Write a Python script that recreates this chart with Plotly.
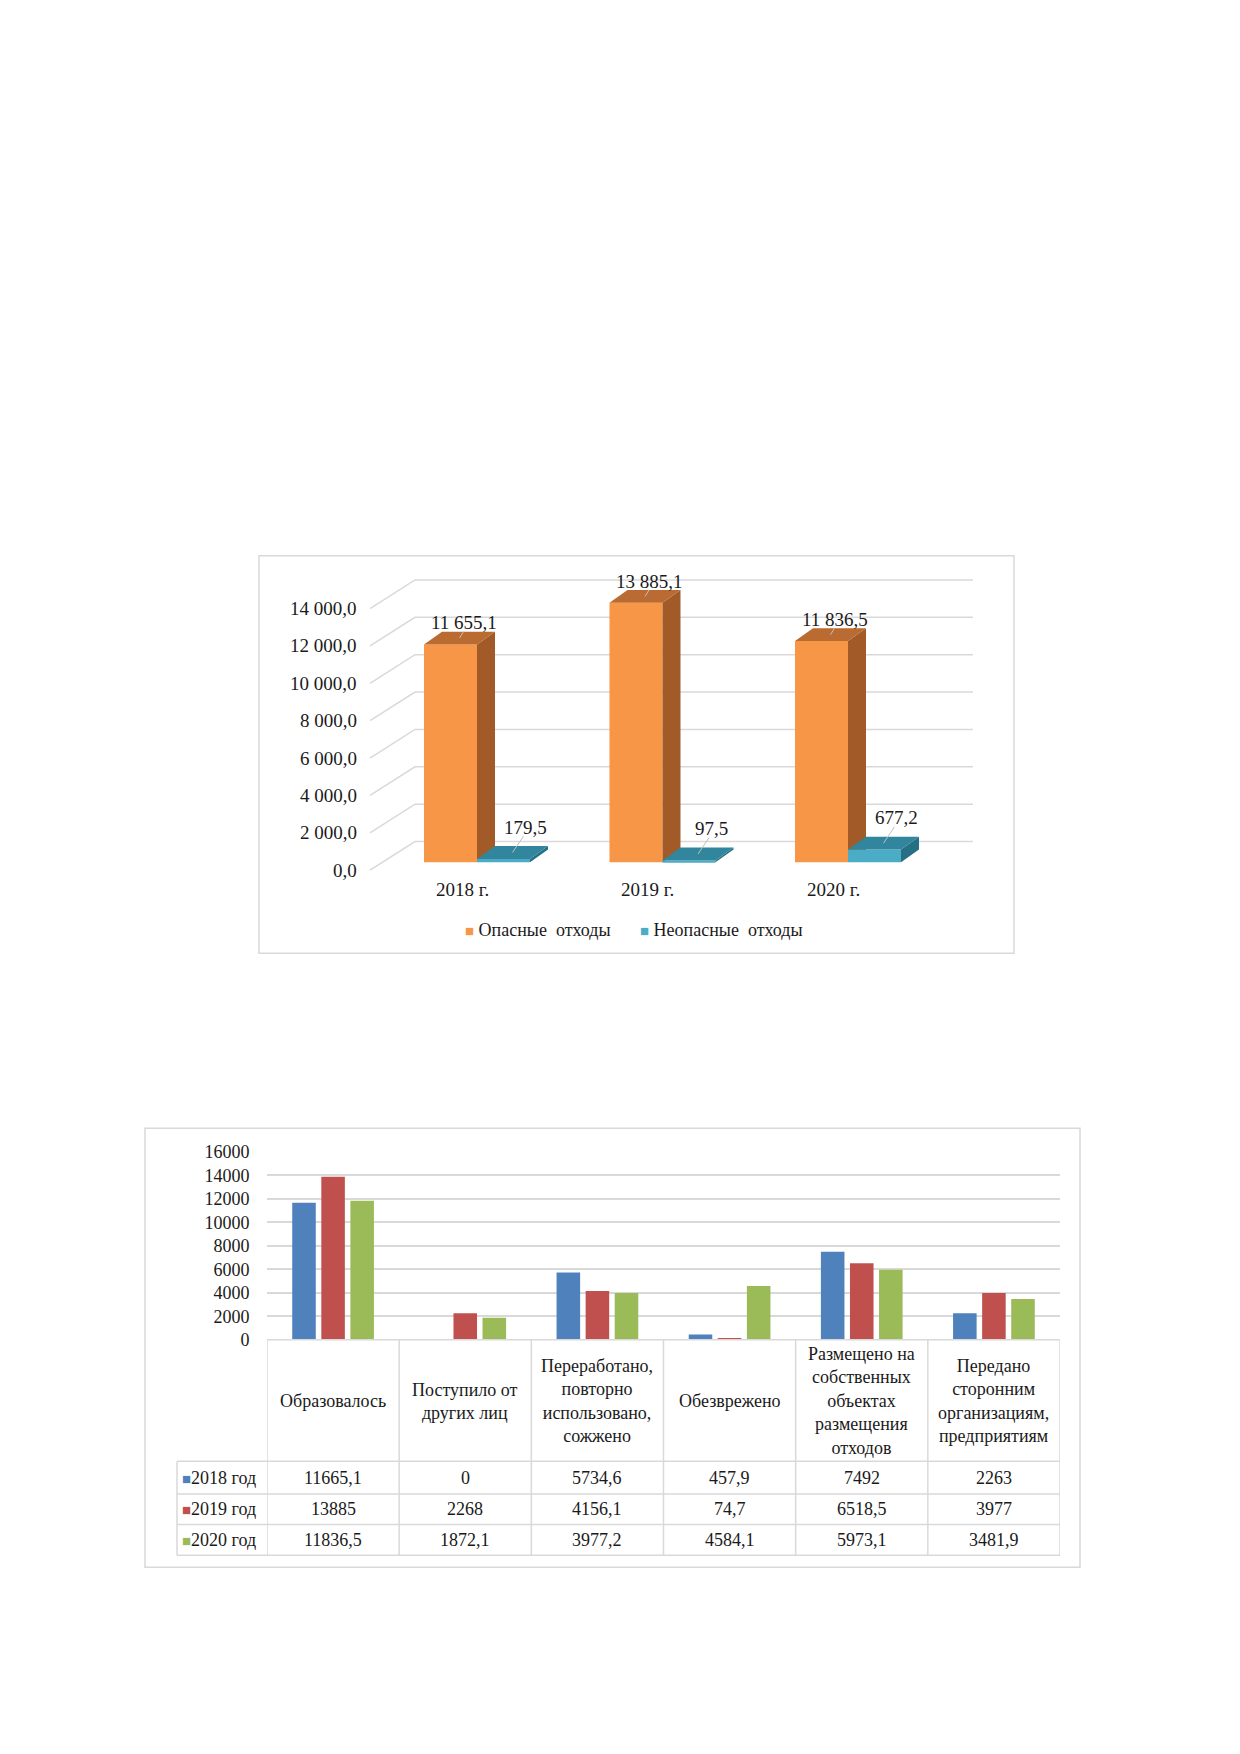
import plotly.graph_objects as go

# top chart: hazardous / non-hazardous waste, thousand t
top_years = ["2018 г.", "2019 г.", "2020 г."]
hazardous = [11655.1, 13885.1, 11836.5]
non_hazardous = [179.5, 97.5, 677.2]
top_ticks = [0, 2000, 4000, 6000, 8000, 10000, 12000, 14000]
top_series = ["Опасные\u00a0 отходы", "Неопасные\u00a0 отходы"]

# bottom chart: waste flows by year
waste_ops = [
    "Образовалось",
    "Поступило от<br>других лиц",
    "Переработано,<br>повторно<br>использовано,<br>сожжено",
    "Обезврежено",
    "Размещено на<br>собственных<br>объектах<br>размещения<br>отходов",
    "Передано<br>сторонним<br>организациям,<br>предприятиям",
]
years = ["2018 год", "2019 год", "2020 год"]
y2018 = [11665.1, 0, 5734.6, 457.9, 7492, 2263]
y2019 = [13885, 2268, 4156.1, 74.7, 6518.5, 3977]
y2020 = [11836.5, 1872.1, 3977.2, 4584.1, 5973.1, 3481.9]
bottom_ticks = [0, 2000, 4000, 6000, 8000, 10000, 12000, 14000, 16000]

W, H = 1240, 1754
FONT = "Liberation Serif"
TXT = "#1a1a1a"
GRID = "#D9D9D9"
TOP_FS = 19
BOT_FS = 18


def px(x):
    return x / W


def py(y):
    return 1 - y / H


def fmt_top(v):
    return f"{v:,.1f}".replace(",", " ").replace(".", ",")


def fmt_cell(v):
    return f"{v:g}".replace(".", ",")


# geometry of the pseudo 3-D chart (pixels of the front plane)
X0, XS = 469, 185.5      # px of category 0, px per category
Y0, YS = 854, 0.0189     # px of value 0, px per value unit
BW = 53 / XS             # bar width in x units


def tx(p):
    return (p - X0) / XS


def ty(dp):
    return dp / YS


BDX, BDY = 18 / XS, ty(13)   # bar depth

top_front = ["#F79646", "#4BACC6"]
top_side = ["#A15A28", "#276F84"]
top_cap = ["#BA6B31", "#31869E"]


def faces(lefts, vals):
    sx, sy, cx, cy = [], [], [], []
    for x0, v in zip(lefts, vals):
        x1 = x0 + BW
        sx += [x1, x1 + BDX, x1 + BDX, x1, None]
        sy += [0, BDY, v + BDY, v, None]
        cx += [x0, x0 + BDX, x1 + BDX, x1, None]
        cy += [v, v + BDY, v + BDY, v, None]
    return sx, sy, cx, cy


def label(x, y, text, xref="paper", yref="paper", xanchor="center", size=TOP_FS, **kw):
    return dict(x=x, y=y, xref=xref, yref=yref, text=text, xanchor=xanchor,
                yanchor="middle", showarrow=False, font=dict(size=size), **kw)


fig = go.Figure()

idx = list(range(len(top_years)))
for k, (vals, axes) in enumerate([(hazardous, ("x", "y")), (non_hazardous, ("x2", "y2"))]):
    off = -BW if k == 0 else 0
    fig.add_trace(go.Bar(
        x=idx, y=vals, width=BW, offset=off,
        marker=dict(color=top_front[k], line_width=0),
        xaxis=axes[0], yaxis=axes[1], showlegend=False, hoverinfo="skip",
    ))
    sx, sy, cx, cy = faces([i + off for i in idx], vals)
    fig.add_trace(go.Scatter(x=sx, y=sy, fill="toself", fillcolor=top_side[k], mode="none",
                             xaxis=axes[0], yaxis=axes[1], showlegend=False, hoverinfo="skip"))
    fig.add_trace(go.Scatter(x=cx, y=cy, fill="toself", fillcolor=top_cap[k], mode="none",
                             xaxis=axes[0], yaxis=axes[1], showlegend=False, hoverinfo="skip"))

# leader lines from bar tops to value labels
lx, ly = [], []
for i in idx:
    c = i - BW / 2
    lx += [c + BDX / 2, c + 13 / XS, None]
    ly += [hazardous[i] + BDY / 2, hazardous[i] + ty(13), None]
    c = i + BW / 2
    lx += [c + BDX / 2, c + 20 / XS, None]
    ly += [non_hazardous[i] + BDY / 2, non_hazardous[i] + ty(23), None]
fig.add_trace(go.Scatter(x=lx, y=ly, mode="lines", line=dict(color="#BFBFBF", width=1),
                         xaxis="x2", yaxis="y2", showlegend=False, hoverinfo="skip"))

# back wall grid with diagonal floor lines
shapes = []
for t in top_ticks:
    shapes.append(dict(
        type="path", xref="x", yref="y", layer="below",
        path=f"M {tx(362)},{t - ty(8)} L {tx(407)},{t + ty(21)} L {tx(965)},{t + ty(21)}",
        line=dict(color=GRID, width=1.5),
    ))

ann = []
for t in top_ticks:
    ann.append(label(tx(351), t - ty(8), fmt_top(t), "x", "y", xanchor="right"))
for i, name in enumerate(top_years):
    ann.append(label(i - 15 / XS, -ty(28), name, "x", "y"))
    ann.append(label(i - BW / 2 + 13 / XS, hazardous[i] + ty(22), fmt_top(hazardous[i]), "x", "y"))
    ann.append(label(i + BW / 2 + 22 / XS, non_hazardous[i] + ty(32),
                     fmt_top(non_hazardous[i]), "x", "y"))
for name, col, x0 in zip(top_series, top_front, [455, 630]):
    ann.append(label(px(x0), py(923), f"<span style='color:{col};font-size:15px'>■</span> {name}",
                     xanchor="left", size=18))

# bottom chart bars
bottom_colors = ["#4F81BD", "#C0504D", "#9BBB59"]
for name, vals, col in zip(years, [y2018, y2019, y2020], bottom_colors):
    fig.add_trace(go.Bar(x=list(range(len(waste_ops))), y=vals, name=name,
                         marker=dict(color=col, line_width=0), xaxis="x3", yaxis="y3",
                         showlegend=False))

# data table under the bottom chart
row_lines = [1460, 1493, 1524, 1555]
for k in range(len(waste_ops) + 1):
    shapes.append(dict(type="line", xref="x3", yref="paper", x0=k - 0.5, x1=k - 0.5,
                       y0=py(1337), y1=py(1555), line=dict(color=GRID, width=1.5)))
shapes.append(dict(type="line", xref="paper", yref="paper", x0=px(259), x1=px(1052),
                   y0=py(1337), y1=py(1337), line=dict(color=GRID, width=1.5)))
for r in row_lines:
    shapes.append(dict(type="line", xref="paper", yref="paper", x0=px(169), x1=px(1052),
                       y0=py(r), y1=py(r), line=dict(color=GRID, width=1.5)))
shapes.append(dict(type="line", xref="paper", yref="paper", x0=px(169), x1=px(169),
                   y0=py(1460), y1=py(1555), line=dict(color=GRID, width=1.5)))

for k, op in enumerate(waste_ops):
    ann.append(label(k, py(1399), op, "x3", "paper", size=BOT_FS, align="center"))
for r, (name, vals, col) in enumerate(zip(years, [y2018, y2019, y2020], bottom_colors)):
    yc = py((row_lines[r] + row_lines[r + 1]) / 2)
    ann.append(label(px(172), yc, f"<span style='color:{col};font-size:15px'>■</span>{name}",
                     xanchor="left", size=BOT_FS))
    for k, v in enumerate(vals):
        ann.append(label(k, yc, fmt_cell(v), "x3", "paper", size=BOT_FS))

# chart frames
for x0, y0, x1, y1 in [(251, 544, 1006, 946), (137, 1123, 1072, 1567)]:
    shapes.append(dict(type="rect", xref="paper", yref="paper", x0=px(x0), x1=px(x1),
                       y0=py(y1), y1=py(y0), line=dict(color=GRID, width=1.5)))

top_x = dict(domain=[px(262), px(1000)], range=[tx(262), tx(1000)], visible=False)
top_y = dict(domain=[py(905), py(548)], range=[ty(Y0 - 905), ty(Y0 - 548)], visible=False)

fig.update_layout(
    width=W, height=H, autosize=False,
    margin=dict(l=0, r=0, t=0, b=0),
    paper_bgcolor="white", plot_bgcolor="rgba(0,0,0,0)",
    font=dict(family=FONT, color=TXT),
    barmode="group", bargap=0.34, bargroupgap=0.19,
    xaxis=dict(top_x, anchor="y"),
    yaxis=dict(top_y, anchor="x"),
    xaxis2=dict(top_x, overlaying="x", anchor="y2"),
    yaxis2=dict(top_y, overlaying="y", anchor="x2"),
    xaxis3=dict(domain=[px(259), px(1052)], range=[-0.5, len(waste_ops) - 0.5],
                showticklabels=False, showgrid=False, zeroline=False, showline=False,
                anchor="y3", fixedrange=True),
    yaxis3=dict(domain=[py(1337), py(1147)], range=[0, 16000], tickvals=bottom_ticks,
                ticktext=[str(t) for t in bottom_ticks], showgrid=True, gridcolor=GRID,
                gridwidth=1.5, zeroline=False, showline=False, ticks="outside", ticklen=13,
                tickcolor="rgba(0,0,0,0)", tickfont=dict(size=BOT_FS), anchor="x3"),
    shapes=shapes,
    annotations=ann,
)

fig.write_html("out.html")
